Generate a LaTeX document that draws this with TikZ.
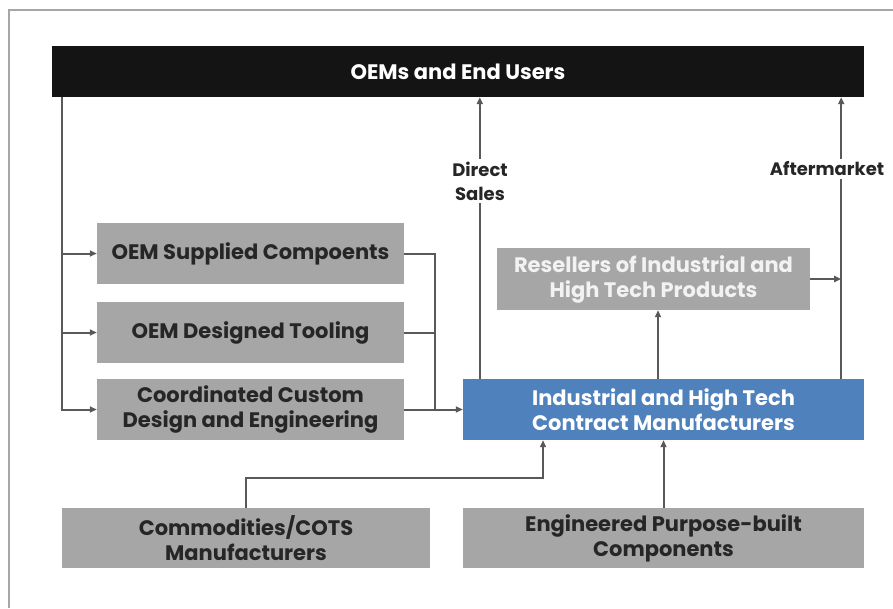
\documentclass[tikz,border=0pt]{standalone}
\usepackage{fontspec}
\setmainfont{Poppins}
\usetikzlibrary{arrows.meta,positioning}
\definecolor{boxgray}{HTML}{A6A6A6}
\definecolor{textdark}{HTML}{262626}
\definecolor{linegray}{HTML}{595959}
\definecolor{barblack}{HTML}{141414}
\definecolor{cmblue}{HTML}{4F81BD}
\tikzset{
  gbox/.style={fill=boxgray, text=textdark, align=center, inner sep=0pt,
    font=\bfseries\fontsize{21}{25}\selectfont},
  line/.style={draw=linegray, line width=2pt},
  link/.style={line, -{Triangle[length=7pt,width=6pt]}},
  lbl/.style={fill=white, text=textdark, align=center, inner sep=3pt,
    font=\bfseries\fontsize{18}{24}\selectfont},
}
\begin{document}
\begin{tikzpicture}[x=1pt,y=-1pt]
\useasboundingbox (0,0) rectangle (893,608);
% frame
\draw[draw=gray!70, line width=1.5pt] (9,608) -- (9,10) -- (893,10);
% boxes
\node[fill=barblack, text=white, minimum width=812pt, minimum height=51pt,
  inner sep=0pt, font=\bfseries\fontsize{21}{25}\selectfont]
  (bar) at (458,71.5) {OEMs and End Users};
\node[gbox, minimum width=307pt, minimum height=61pt] (sup) at (250.5,253.5)
  {OEM Supplied Compoents};
\node[gbox, minimum width=307pt, minimum height=61pt] (tool) at (250.5,332.5)
  {OEM Designed Tooling};
\node[gbox, minimum width=307pt, minimum height=61pt] (coord) at (250.5,409.5)
  {Coordinated Custom\\Design and Engineering};
\node[gbox, fill=cmblue, text=white, minimum width=401pt, minimum height=61pt]
  (ind) at (663.5,409.5) {Industrial and High Tech\\Contract Manufacturers};
\node[gbox, text=white!95!black, minimum width=313pt, minimum height=62pt]
  (res) at (653.5,279) {Resellers of Industrial and\\High Tech Products};
\node[gbox, minimum width=368pt, minimum height=60pt] (com) at (246,538)
  {Commodities/COTS\\Manufacturers};
\node[gbox, minimum width=401pt, minimum height=60pt] (eng) at (663.5,538)
  {Engineered Purpose-built\\Components};
% left feed
\coordinate (lft) at ([xshift=10pt]bar.south west);
\draw[link] (lft) |- (coord);
\foreach \n in {sup,tool}
  \draw[link] (lft |- \n) -- (\n);
% right join
\coordinate (rj) at ([xshift=31pt]sup.east);
\draw[line] (sup.east) -| (rj |- coord);
\draw[line] (tool.east) -- (rj |- tool);
\draw[link] (coord) -- (ind);
% up to the bar
\coordinate (ds) at ([xshift=17pt]ind.north west);
\coordinate (am) at ([xshift=-23pt]ind.north east);
\draw[link] (ds) -- (ds |- bar.south);
\draw[link] (am) -- (am |- bar.south);
\node[lbl] (dsl) at (480,181) {Direct\\Sales};
\node[lbl] (aml) at (827,169) {Aftermarket};
% resellers
\coordinate (ir) at ([xshift=-5.5pt]ind.north);
\draw[link] (ir) -- (ir |- res.south);
\draw[link] (res) -- (am |- res);
% suppliers
\draw[link] (com.north) -- ++(0,-30) -| ([xshift=-120.5pt]ind.south);
\draw[link] (eng) -- (ind);
\end{tikzpicture}
\end{document}
